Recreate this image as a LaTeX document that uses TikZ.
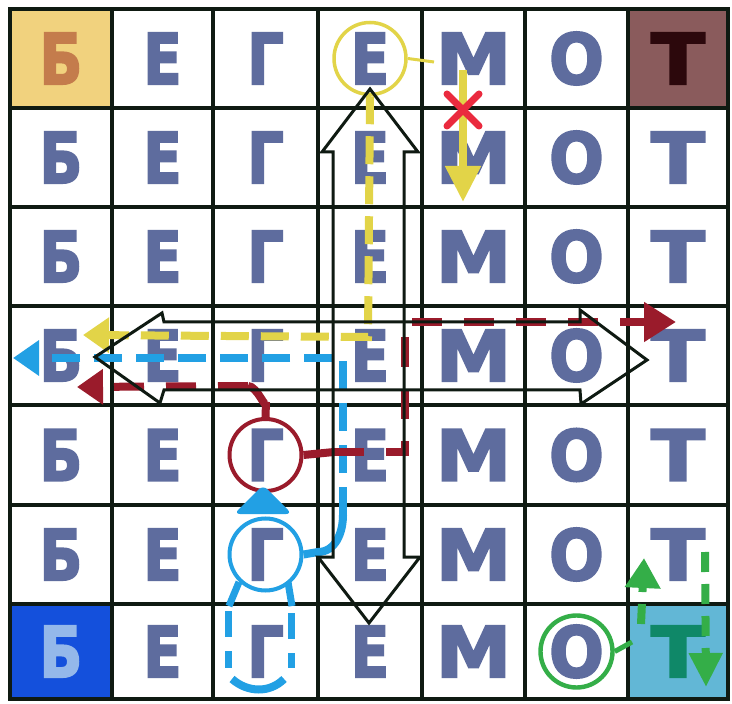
\documentclass[tikz,border=0pt]{standalone}
\usepackage{fontspec}
\usetikzlibrary{arrows.meta}
\newfontfamily\lettfont{DejaVu Sans Bold}[FakeBold=3]
\definecolor{gridc}{HTML}{0F1A12}
\definecolor{lettc}{HTML}{5E6C9E}
\definecolor{cellTL}{HTML}{F1D27E}
\definecolor{letTL}{HTML}{C47C4C}
\definecolor{cellTR}{HTML}{8A5B5C}
\definecolor{letTR}{HTML}{2C080C}
\definecolor{cellBL}{HTML}{1450DC}
\definecolor{letBL}{HTML}{94B8EA}
\definecolor{cellBR}{HTML}{62B7D6}
\definecolor{letBR}{HTML}{0F8868}
\definecolor{yel}{HTML}{E2D448}
\definecolor{redd}{HTML}{9A1B2B}
\definecolor{xred}{HTML}{EA2A3E}
\definecolor{blu}{HTML}{22A0E4}
\definecolor{grn}{HTML}{34AE48}
\begin{document}
\begin{tikzpicture}[x=0.5pt,y=-0.5pt,
  gridline/.style={draw=gridc, line width=2pt, line cap=rect},
  lett/.style={font=\lettfont\fontsize{35pt}{38pt}\selectfont, text=lettc, inner sep=0pt},
  c00/.style={text=letTL}, c60/.style={text=letTR},
  c06/.style={text=letBL}, c66/.style={text=letBR},
  ring/.style={circle, minimum size=36pt, line width=1.75pt, inner sep=0pt},
  ydash/.style={draw=yel, line width=4pt, dash pattern=on 14pt off 6pt},
  bdash/.style={draw=blu, line width=4pt, dash pattern=on 14pt off 7pt},
  rdash/.style={draw=redd, line width=4pt, dash pattern=on 15pt off 11pt},
  gdash/.style={draw=grn, line width=4pt, dash pattern=on 10pt off 6pt},
  hollow/.style={draw=gridc, line width=1.5pt, line join=miter},
  tipY/.style={-{Triangle[width=17pt,length=13pt]}},
]
\useasboundingbox (0,0) rectangle (732,704);
\fill[white] (0,0) rectangle (732,704);
% coloured corner cells
\fill[cellTL] (10,9) rectangle (112,108);
\fill[cellTR] (628,9) rectangle (728,108);
\fill[cellBL] (10,604) rectangle (112,699);
\fill[cellBR] (628,604) rectangle (728,699);
% grid
\foreach \x in {10,112,213,318,422,525,628,728}{\draw[gridline] (\x,9) -- (\x,699);}
\foreach \y in {9,108,207,306,405,505,604,699}{\draw[gridline] (10,\y) -- (728,\y);}
% letters
\foreach \L/\sx/\cx [count=\i from 0] in {Б/0.8/61,Е/0.8/162.5,Г/0.82/265.5,Е/0.8/370,М/1.08/473.5,О/0.92/576.5,Т/1.12/678}{
  \foreach \cy [count=\j from 0] in {58.5,157.5,256.5,355.5,455,554.5,651.5}{
    \node[lett, c\i\j/.try] (L\i\j) at (\cx,\cy) {\scalebox{\sx}[1]{\L}};
  }
}
% rings
\node[ring, draw=yel] (ycirc) at (L30) {};
\node[ring, draw=redd, line width=2pt] (rcirc) at (L24) {};
\node[ring, draw=blu, line width=2pt] (bcirc) at (L25) {};
\node[ring, draw=grn, line width=2.2pt] (gcirc) at (L56) {};
% yellow path
\coordinate (ymA) at (463,70);
\coordinate (ymB) at (463,202);
\draw[yel, line width=1.5pt] (ycirc.east) -- (434,62);
\draw[yel, line width=4pt, -{Triangle[width=17pt,length=18pt]}] (ymA) -- (ymB);
\draw[xred, line width=3.5pt, line cap=round] (447,94) -- (479,126) (479,94) -- (447,126);
\coordinate (yc1) at (368,337);
\coordinate (yend) at (83,335);
\draw[ydash, tipY] (ycirc.south) -- (yc1) -- (yend);
% blue path
\fill[blu, rounded corners=3pt] (263,485) -- (292,514) -- (234,514) -- cycle;
\coordinate (bc1) at (343,515);
\coordinate (bc2) at (343,358);
\coordinate (bend) at (13,358);
\draw[blu, line width=4pt] (bcirc.east) -- (318,552) to[out=0,in=-90] (bc1);
\draw[bdash, tipY] (bc1) -- (bc2) -- (bend);
\draw[blu, line width=3.5pt] (239,582) -- (229,606) (288,582) -- (292,606);
\draw[blu, line width=3.5pt, dash pattern=on 13pt off 7pt] (228,611) -- (228,668) (291,613) -- (291,668);
\draw[blu, line width=4pt] (232,679) .. controls (248,693) and (270,693) .. (284,679);
% dark red path
\coordinate (rc1) at (266,402);
\coordinate (rc2) at (248,386);
\coordinate (rend) at (77,387);
\draw[redd, line width=4pt] (rcirc.north) -- (rc1) to[out=-90,in=0] (rc2);
\draw[rdash, tipY] (rc2) -- (rend);
\coordinate (rc0) at (334,452);
\coordinate (rc3) at (405,452);
\coordinate (rc4) at (405,322);
\coordinate (rend2) at (676,322);
\draw[redd, line width=4pt] (rcirc.east) -- (rc0);
\draw[rdash, -{Triangle[width=19pt,length=16pt]}] (rc0) -- (rc3) -- (rc4) -- (rend2);
% green path
\coordinate (gc1) at (632,642);
\draw[grn, line width=2.5pt] (gcirc.east) -- (gc1);
\coordinate (gu1) at (641,624);
\coordinate (gu2) at (644,558);
\draw[gdash, -{Triangle[width=17pt,length=15pt]}] (gu1) -- (gu2);
\coordinate (gd1) at (705,552);
\coordinate (gd2) at (706,687);
\draw[gdash, -{Triangle[width=16pt,length=17pt]}] (gd1) -- (gd2);
% hollow double arrows
\draw[hollow] (370,89) -- (418,152) -- (404,152) -- (404,557) -- (420,557) -- (369,623)
  -- (318,557) -- (333,557) -- (333,152) -- (322,152) -- cycle;
\draw[hollow] (95,357) -- (162,313) -- (164,322) -- (580,322) -- (580,310) -- (647,360)
  -- (581,404) -- (580,390) -- (164,390) -- (160,403) -- cycle;
\end{tikzpicture}
\end{document}
